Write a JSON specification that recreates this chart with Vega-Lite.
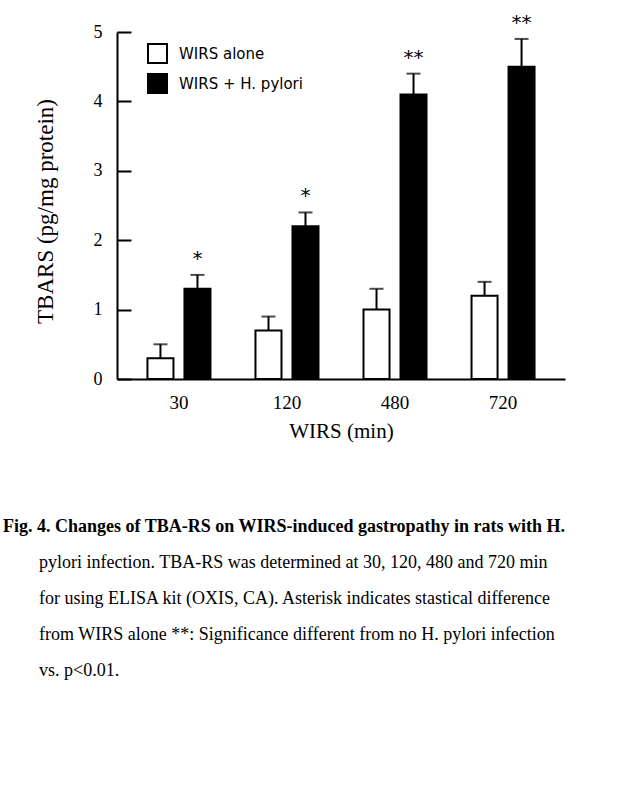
{
  "$schema": "https://vega.github.io/schema/vega-lite/v6.json",
  "width": 448,
  "height": 347,
  "autosize": {"type": "none"},
  "padding": {"left": 117, "top": 32, "right": 69, "bottom": 409},
  "background": "white",
  "config": {"view": {"stroke": null}},
  "title": {
    "text": "Fig. 4. Changes of TBA-RS on WIRS-induced gastropathy in rats with H.",
    "subtitle": [
      "\u200b\u2003\u2003pylori infection. TBA-RS was determined at 30, 120, 480 and 720 min",
      "\u200b\u2003\u2003for using ELISA kit (OXIS, CA). Asterisk indicates stastical difference",
      "\u200b\u2003\u2003from WIRS alone **: Significance different from no H. pylori infection",
      "\u200b\u2003\u2003vs. p<0.01."
    ],
    "orient": "bottom",
    "anchor": "start",
    "frame": "group",
    "dx": -114,
    "offset": 77,
    "font": "Liberation Serif",
    "fontSize": 18,
    "fontWeight": "bold",
    "color": "black",
    "subtitleFont": "Liberation Serif",
    "subtitleFontSize": 18,
    "subtitleFontWeight": "normal",
    "subtitleColor": "black",
    "subtitleLineHeight": 36,
    "subtitlePadding": 18
  },
  "data": {
    "values": [
      {"time": "30", "group": "WIRS alone", "mean": 0.3, "upper": 0.5, "sig": ""},
      {"time": "30", "group": "WIRS + H. pylori", "mean": 1.3, "upper": 1.5, "sig": "*"},
      {"time": "120", "group": "WIRS alone", "mean": 0.7, "upper": 0.9, "sig": ""},
      {"time": "120", "group": "WIRS + H. pylori", "mean": 2.2, "upper": 2.4, "sig": "*"},
      {"time": "480", "group": "WIRS alone", "mean": 1.0, "upper": 1.3, "sig": ""},
      {"time": "480", "group": "WIRS + H. pylori", "mean": 4.1, "upper": 4.4, "sig": "**"},
      {"time": "720", "group": "WIRS alone", "mean": 1.2, "upper": 1.4, "sig": ""},
      {"time": "720", "group": "WIRS + H. pylori", "mean": 4.5, "upper": 4.9, "sig": "**"}
    ]
  },
  "encoding": {
    "x": {
      "field": "time",
      "type": "nominal",
      "sort": ["30", "120", "480", "720"],
      "scale": {"paddingInner": 0.315, "paddingOuter": 0.231},
      "title": "WIRS (min)",
      "axis": {
        "labelAngle": 0,
        "ticks": false,
        "domainColor": "black",
        "domainWidth": 2,
        "labelPadding": 14,
        "labelFont": "Liberation Serif",
        "labelFontSize": 19,
        "labelColor": "black",
        "titleFont": "Liberation Serif",
        "titleFontSize": 21,
        "titleFontWeight": "normal",
        "titleColor": "black",
        "titlePadding": 8
      }
    },
    "xOffset": {
      "field": "group",
      "type": "nominal",
      "sort": ["WIRS alone", "WIRS + H. pylori"],
      "scale": {"paddingInner": 0.297, "paddingOuter": 0.1485}
    }
  },
  "layer": [
    {
      "mark": {"type": "bar", "stroke": "black", "strokeWidth": 2},
      "encoding": {
        "y": {
          "field": "mean",
          "type": "quantitative",
          "scale": {"domain": [0, 5], "nice": false},
          "title": "TBARS (pg/mg protein)",
          "axis": {
            "values": [0, 0.5, 1, 1.5, 2, 2.5, 3, 3.5, 4, 4.5, 5],
            "labelExpr": "datum.value % 1 === 0 ? datum.value + '' : ''",
            "tickSize": {"condition": {"test": "datum.value % 1 === 0", "value": -14}, "value": -7},
            "tickWidth": 2,
            "tickColor": "black",
            "domainColor": "black",
            "domainWidth": 2,
            "grid": false,
            "labelPadding": 29,
            "labelFont": "Liberation Serif",
            "labelFontSize": 18,
            "labelColor": "black",
            "titleFont": "Liberation Serif",
            "titleFontSize": 23,
            "titleFontWeight": "normal",
            "titleColor": "black",
            "titlePadding": 36,
            "titleY": 179
          }
        },
        "fill": {
          "field": "group",
          "type": "nominal",
          "scale": {"domain": ["WIRS alone", "WIRS + H. pylori"], "range": ["white", "black"]},
          "legend": {
            "orient": "none",
            "legendX": 30,
            "legendY": 11,
            "title": null,
            "symbolType": "square",
            "symbolSize": 361,
            "symbolStrokeColor": "black",
            "symbolStrokeWidth": 2,
            "symbolOpacity": 1,
            "labelFont": "DejaVu Sans",
            "labelFontSize": 15,
            "labelColor": "black",
            "labelOffset": 11,
            "rowPadding": 3,
            "padding": 0
          }
        }
      }
    },
    {
      "mark": {"type": "rule", "color": "black", "strokeWidth": 2},
      "encoding": {
        "y": {"field": "mean", "type": "quantitative"},
        "y2": {"field": "upper"}
      }
    },
    {
      "mark": {"type": "tick", "color": "black", "thickness": 2, "size": 14, "orient": "horizontal"},
      "encoding": {
        "y": {"field": "upper", "type": "quantitative"}
      }
    },
    {
      "mark": {"type": "text", "font": "DejaVu Sans", "fontSize": 20, "dy": -16, "baseline": "middle", "color": "black"},
      "encoding": {
        "y": {"field": "upper", "type": "quantitative"},
        "text": {"field": "sig"}
      }
    }
  ]
}
